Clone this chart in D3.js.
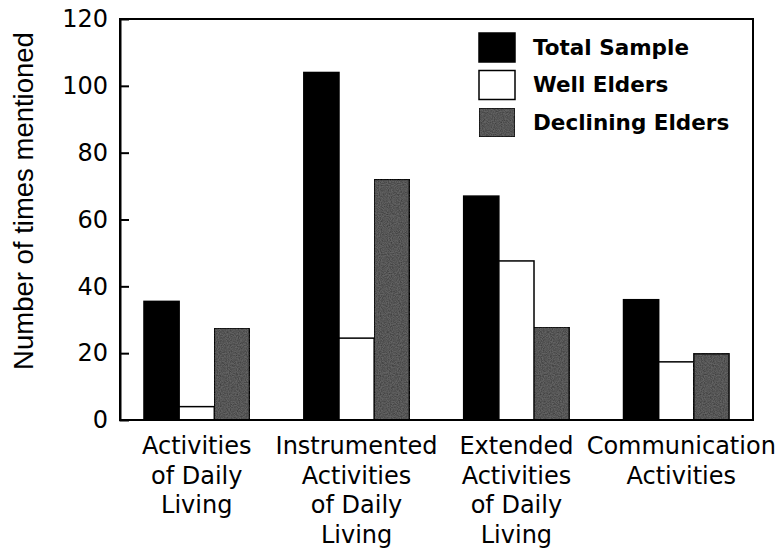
<!DOCTYPE html>
<html>
<head>
<meta charset="utf-8">
<script src="https://cdn.jsdelivr.net/npm/d3@7"></script>
<style>
  body { margin: 0; background: #fff; }
  svg { display: block; }
</style>
</head>
<body>
<div id="chart"></div>
<script>
// values
const categories = [
  ['Activities', 'of Daily', 'Living'],
  ['Instrumented', 'Activities', 'of Daily', 'Living'],
  ['Extended', 'Activities', 'of Daily', 'Living'],
  ['Communication', 'Activities'],
];
const seriesNames = ['Total Sample', 'Well Elders', 'Declining Elders'];
const totalSample = [35.5, 104, 67, 36];
const wellElders = [4, 24.5, 47.6, 17.4];
const decliningElders = [27.5, 72, 27.8, 19.8];
const yTicks = [0, 20, 40, 60, 80, 100, 120];

const width = 777, height = 548;
const margin = { top: 19, right: 24, bottom: 128, left: 120 };

const svg = d3.select('#chart').append('svg')
  .attr('width', width)
  .attr('height', height);

// grainy grey like the scanned print
const defs = svg.append('defs');
const filt = defs.append('filter').attr('id', 'grain')
  .attr('x', 0).attr('y', 0).attr('width', 1).attr('height', 1)
  .attr('color-interpolation-filters', 'sRGB');
filt.append('feTurbulence')
  .attr('type', 'fractalNoise')
  .attr('baseFrequency', 0.9)
  .attr('numOctaves', 2)
  .attr('seed', 3)
  .attr('result', 'noise');
filt.append('feColorMatrix')
  .attr('in', 'noise')
  .attr('type', 'matrix')
  .attr('values', '0 0 0 0 0.2  0 0 0 0 0.2  0 0 0 0 0.2  0 0 0 1.4 -0.45')
  .attr('result', 'grainC');
filt.append('feComposite')
  .attr('in', 'grainC')
  .attr('in2', 'SourceGraphic')
  .attr('operator', 'in')
  .attr('result', 'g2');
filt.append('feMerge').call(m => {
  m.append('feMergeNode').attr('in', 'SourceGraphic');
  m.append('feMergeNode').attr('in', 'g2');
});

const fills = ['#000', '#fff', '#626262'];

const x0 = d3.scaleBand()
  .domain(d3.range(categories.length))
  .range([margin.left, width - margin.right])
  .paddingInner(0.34)
  .paddingOuter(0.15);

const x1 = d3.scaleBand()
  .domain(d3.range(seriesNames.length))
  .range([0, x0.bandwidth()]);

const y = d3.scaleLinear()
  .domain([0, 120])
  .range([height - margin.bottom, margin.top]);

const rows = categories.map((c, i) => [totalSample[i], wellElders[i], decliningElders[i]]);

const g = svg.append('g');

g.selectAll('g.grp')
  .data(rows)
  .join('g')
  .attr('class', 'grp')
  .attr('transform', (d, i) => `translate(${x0(i)},0)`)
  .selectAll('rect')
  .data(d => d.map((v, k) => ({ v, k })))
  .join('rect')
  .attr('x', d => x1(d.k))
  .attr('width', x1.bandwidth())
  .attr('y', d => y(d.v))
  .attr('height', d => y(0) - y(d.v))
  .attr('fill', d => fills[d.k])
  .attr('filter', d => d.k === 2 ? 'url(#grain)' : null)
  .attr('stroke', '#000')
  .attr('stroke-width', 1.5);

// frame: top and right border
svg.append('rect')
  .attr('x', margin.left)
  .attr('y', margin.top)
  .attr('width', width - margin.left - margin.right)
  .attr('height', height - margin.top - margin.bottom)
  .attr('fill', 'none')
  .attr('stroke', '#000')
  .attr('stroke-width', 2);

// y axis, ticks point inward
const yAxis = svg.append('g')
  .attr('transform', `translate(${margin.left},0)`)
  .call(d3.axisRight(y).tickValues(yTicks).tickSize(9).tickFormat(d3.format('d')));
yAxis.select('.domain').attr('stroke-width', 2);
yAxis.selectAll('.tick line').attr('stroke-width', 2);
yAxis.selectAll('.tick text')
  .attr('x', -12)
  .attr('text-anchor', 'end')
  .attr('font-family', 'DejaVu Sans, Verdana, sans-serif')
  .attr('font-size', 24)
  .attr('fill', '#000');
yAxis.selectAll('.tick').filter(d => d === 0 || d === 120).select('line').remove();

// category labels
svg.append('g').selectAll('text')
  .data(categories)
  .join('text')
  .attr('x', (d, i) => x0(i) + x0.bandwidth() / 2 + (i === 3 ? 5 : 0))
  .attr('y', 454)
  .attr('text-anchor', 'middle')
  .attr('font-family', 'DejaVu Sans, Verdana, sans-serif')
  .attr('font-size', 24)
  .attr('fill', '#000')
  .selectAll('tspan')
  .data(d => d)
  .join('tspan')
  .attr('x', function () { return this.parentNode.getAttribute('x'); })
  .attr('dy', (d, i) => i === 0 ? 0 : 29.5)
  .text(d => d);

// y axis title
svg.append('text')
  .attr('transform', `translate(33,201) rotate(-90)`)
  .attr('text-anchor', 'middle')
  .attr('font-family', 'Liberation Sans, Arial, sans-serif')
  .attr('font-size', 27.5)
  .attr('fill', '#000')
  .text('Number of times mentioned');

// legend
const legend = svg.append('g').attr('transform', 'translate(479,33)');
const items = legend.selectAll('g')
  .data(seriesNames)
  .join('g')
  .attr('transform', (d, i) => `translate(0,${i * 37.5})`);
items.append('rect')
  .attr('width', 36)
  .attr('height', 29)
  .attr('fill', (d, i) => fills[i])
  .attr('filter', (d, i) => i === 2 ? 'url(#grain)' : null)
  .attr('stroke', '#000')
  .attr('stroke-width', 1.5);
items.append('text')
  .attr('x', 54)
  .attr('y', 14)
  .attr('dy', '0.36em')
  .attr('font-family', 'DejaVu Sans, Verdana, sans-serif')
  .attr('font-weight', 'bold')
  .attr('font-size', 21.5)
  .attr('fill', '#000')
  .text(d => d);
</script>
</body>
</html>
